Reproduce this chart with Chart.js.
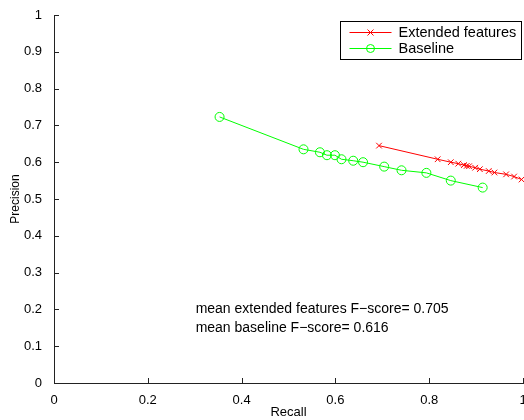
<!DOCTYPE html>
<html>
<head>
<meta charset="utf-8">
<script src="https://cdn.jsdelivr.net/npm/chart.js@4"></script>
<style>
  html, body { margin: 0; padding: 0; background: #fff; }
  #wrap { width: 524px; height: 420px; }
</style>
</head>
<body>
<div id="wrap"><canvas id="chart" width="524" height="420"></canvas></div>
<script>
const extRecall = [0.693, 0.818, 0.846, 0.862, 0.874, 0.880, 0.885, 0.898, 0.908, 0.927, 0.939, 0.964, 0.981, 0.997]
const extPrecision = [0.645, 0.608, 0.600, 0.596, 0.592, 0.590, 0.589, 0.585, 0.581, 0.576, 0.572, 0.567, 0.561, 0.553]
const baseRecall = [0.353, 0.532, 0.567, 0.582, 0.599, 0.613, 0.638, 0.659, 0.704, 0.741, 0.794, 0.846, 0.914]
const basePrecision = [0.723, 0.635, 0.627, 0.619, 0.619, 0.608, 0.604, 0.600, 0.588, 0.578, 0.571, 0.550, 0.531]
const seriesNames = ["Extended features", "Baseline"]
const notes = ["mean extended features F\u2212score= 0.705", "mean baseline F\u2212score= 0.616"]
const xTicks = [0, 0.2, 0.4, 0.6, 0.8, 1]
const yTicks = [0, 0.1, 0.2, 0.3, 0.4, 0.5, 0.6, 0.7, 0.8, 0.9, 1]

const font = "Liberation Sans, Arial, Helvetica, sans-serif"

function pts(xs, ys) {
  return xs.map((x, i) => ({ x: x, y: ys[i] }))
}

// matlab style: ticks pointing into the plot, legend box, text notes
const extras = {
  id: "extras",
  afterDraw(chart) {
    const ctx = chart.ctx
    const xs = chart.scales.x
    const ys = chart.scales.y
    const area = chart.chartArea
    ctx.save()
    ctx.strokeStyle = "#222"
    ctx.lineWidth = 1
    ctx.beginPath()
    ctx.moveTo(area.left + 0.5, area.top)
    ctx.lineTo(area.left + 0.5, area.bottom + 0.5)
    ctx.lineTo(area.right + 1, area.bottom + 0.5)
    xTicks.forEach(v => {
      const p = Math.round(xs.getPixelForValue(v)) + 0.5
      ctx.moveTo(p, area.bottom)
      ctx.lineTo(p, area.bottom - 5)
    })
    yTicks.forEach(v => {
      const p = Math.round(ys.getPixelForValue(v)) + 0.5
      ctx.moveTo(area.left, p)
      ctx.lineTo(area.left + 5, p)
    })
    ctx.stroke()

    // notes
    ctx.fillStyle = "#000"
    ctx.font = "14px " + font
    ctx.textBaseline = "middle"
    ctx.textAlign = "left"
    ctx.fillText(notes[0], xs.getPixelForValue(0.302), ys.getPixelForValue(0.2))
    ctx.fillText(notes[1], xs.getPixelForValue(0.302), ys.getPixelForValue(0.15))

    // legend
    const lx = 340.5, ly = 21.5, lw = 181, lh = 38
    ctx.fillStyle = "#fff"
    ctx.fillRect(lx, ly, lw, lh)
    ctx.strokeStyle = "#000"
    ctx.strokeRect(lx, ly, lw, lh)
    chart.data.datasets.forEach((ds, i) => {
      const cy = ly + 11 + i * 16
      ctx.strokeStyle = ds.borderColor
      ctx.beginPath()
      ctx.moveTo(lx + 9, cy)
      ctx.lineTo(lx + 51, cy)
      ctx.stroke()
      ctx.beginPath()
      if (ds.pointStyle === "circle") {
        ctx.arc(lx + 30, cy, 4, 0, Math.PI * 2)
      } else {
        ctx.moveTo(lx + 27, cy - 3); ctx.lineTo(lx + 33, cy + 3)
        ctx.moveTo(lx + 33, cy - 3); ctx.lineTo(lx + 27, cy + 3)
      }
      ctx.stroke()
      ctx.fillStyle = "#000"
      ctx.font = "14.5px " + font
      ctx.fillText(ds.label, lx + 58, cy)
    })
    ctx.restore()
  }
}

new Chart(document.getElementById("chart"), {
  type: "scatter",
  data: {
    datasets: [
      {
        label: seriesNames[0],
        data: pts(extRecall, extPrecision),
        showLine: true,
        borderColor: "rgb(255, 0, 0)",
        backgroundColor: "rgba(0, 0, 0, 0)",
        borderWidth: 1,
        pointStyle: "crossRot",
        pointRadius: 4,
        pointBorderWidth: 1
      },
      {
        label: seriesNames[1],
        data: pts(baseRecall, basePrecision),
        showLine: true,
        borderColor: "rgb(0, 255, 0)",
        backgroundColor: "rgba(0, 0, 0, 0)",
        borderWidth: 1,
        pointStyle: "circle",
        pointRadius: 4.5,
        pointBorderWidth: 1
      }
    ]
  },
  options: {
    responsive: false,
    animation: false,
    clip: false,
    layout: { autoPadding: false, padding: { top: 15, right: 1, left: 0, bottom: 0 } },
    plugins: {
      legend: { display: false },
      tooltip: { enabled: false }
    },
    scales: {
      x: {
        type: "linear",
        min: 0,
        max: 1,
        afterBuildTicks: s => { s.ticks = xTicks.map(v => ({ value: v })) },
        afterFit: s => { s.height = 37; s.paddingLeft = 0; s.paddingRight = 0 },
        border: { display: false },
        grid: { display: false },
        ticks: {
          color: "#000",
          padding: 2,
          maxRotation: 0,
          font: { family: font, size: 13 },
          callback: v => String(v)
        },
        title: {
          display: true,
          text: "Recall",
          color: "#000",
          padding: { top: 0, bottom: 0 },
          font: { family: font, size: 13 }
        }
      },
      y: {
        type: "linear",
        min: 0,
        max: 1,
        afterBuildTicks: s => { s.ticks = yTicks.map(v => ({ value: v })) },
        afterFit: s => { s.width = 54 },
        border: { display: false },
        grid: { display: false },
        ticks: {
          color: "#000",
          padding: 4,
          font: { family: font, size: 13 },
          callback: v => String(v)
        },
        title: {
          display: true,
          text: "Precision",
          color: "#000",
          padding: { top: 8, bottom: 0 },
          font: { family: font, size: 12 }
        }
      }
    }
  },
  plugins: [extras]
})
</script>
</body>
</html>
